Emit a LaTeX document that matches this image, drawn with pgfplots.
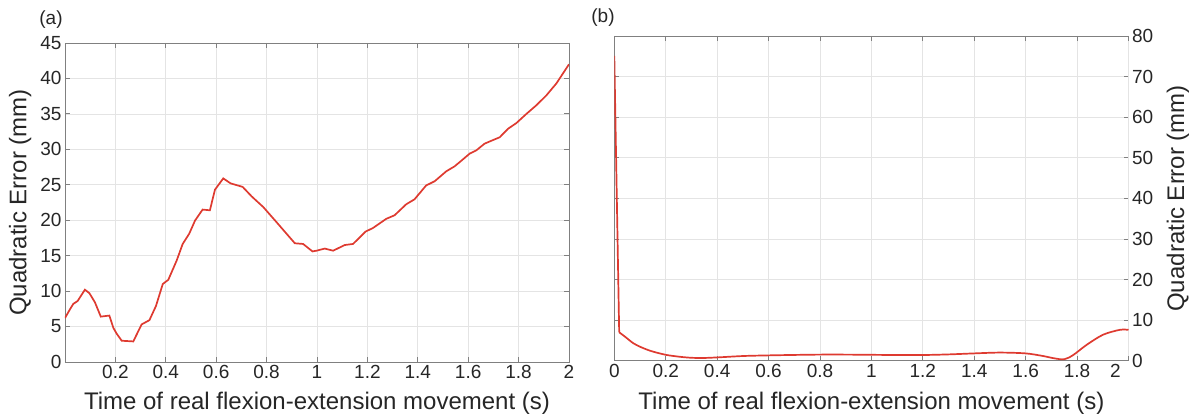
\documentclass[border=0pt]{standalone}
\usepackage{fontspec}
\setmainfont{Liberation Sans}
\usepackage{pgfplots}
\pgfplotsset{compat=1.18}

\definecolor{curvered}{RGB}{222,58,48}
\definecolor{framegray}{RGB}{128,128,128}
\definecolor{gridgray}{RGB}{228,228,228}
\definecolor{textgray}{RGB}{38,38,38}

\newcommand{\labelfont}{\fontsize{24}{24}\selectfont}

\pgfplotsset{
  errpanel/.style={
    scale only axis,
    anchor=south west,
    axis line style={framegray, line width=0.9pt},
    tick style={framegray, line width=0.8pt},
    tick align=inside,
    major tick length=5pt,
    grid=major,
    major grid style={gridgray, line width=0.7pt},
    /pgf/number format/assume math mode=true,
    tick label style={font=\fontsize{19}{19}\selectfont, text=textgray},
    every axis x label/.style={at={(axis description cs:0.5,-0.150)}, anchor=base,
      font=\labelfont, text=textgray},
    xmin=0, xmax=2,
  },
}

\begin{document}
\begin{tikzpicture}
\path[use as bounding box] (0,0) rectangle (1196pt,419pt);

% (a) quadratic error of the fitted trajectory
\begin{axis}[errpanel,
  at={(65pt,57pt)}, width=504pt, height=319pt,
  ymin=0, ymax=45,
  xtick={0.2,0.4,0.6,0.8,1,1.2,1.4,1.6,1.8,2},
  ytick={0,5,10,15,20,25,30,35,40,45},
  xlabel={Time of real flexion-extension movement (s)},
  ylabel={Quadratic Error (mm)},
  every axis y label/.style={at={(axis description cs:-0.089,0.5)}, rotate=90,
    anchor=center, font=\labelfont, text=textgray},
]
\addplot[curvered, line width=1.7pt] coordinates {
(0,6.2) (0.02,7.45) (0.033,8.2) (0.05,8.6) (0.079,10.2) (0.097,9.7)
(0.119,8.4) (0.142,6.4) (0.176,6.55) (0.192,4.8) (0.205,4.0) (0.225,3.0)
(0.271,2.9) (0.304,5.3) (0.335,5.9) (0.361,7.9) (0.388,11.0) (0.41,11.6)
(0.443,14.3) (0.467,16.65) (0.493,18.1) (0.516,19.95) (0.546,21.5)
(0.575,21.4) (0.595,24.3) (0.628,25.9) (0.657,25.2) (0.705,24.7)
(0.741,23.35) (0.787,21.85) (0.84,19.7) (0.879,18.1) (0.912,16.75)
(0.945,16.65) (0.982,15.6) (0.998,15.7) (1.031,16.0) (1.064,15.7)
(1.11,16.5) (1.143,16.65) (1.193,18.4) (1.222,18.9) (1.275,20.2)
(1.308,20.7) (1.354,22.25) (1.387,22.95) (1.433,24.9) (1.467,25.5)
(1.513,26.9) (1.546,27.6) (1.573,28.4) (1.606,29.4) (1.632,29.85)
(1.665,30.8) (1.698,31.3) (1.725,31.7) (1.758,32.9) (1.791,33.7)
(1.831,35.0) (1.87,36.2) (1.91,37.6) (1.95,39.3) (2.0,42.0)
};
\end{axis}
\node[font=\fontsize{19}{19}\selectfont, text=textgray] at (51pt,399pt) {(a)};

% (b) quadratic error after correction
\begin{axis}[errpanel,
  at={(614.3pt,58.3pt)}, width=514.2pt, height=324.7pt,
  ymin=0, ymax=80,
  xtick={0,0.2,0.4,0.6,0.8,1,1.2,1.4,1.6,1.8},
  extra x ticks={2},
  extra x tick style={xticklabel style={xshift=-13pt}},
  ytick={0,10,20,30,40,50,60,70,80},
  yticklabel pos=right,
  xlabel={Time of real flexion-extension movement (s)},
  ylabel={Quadratic Error (mm)},
  every axis y label/.style={at={(axis description cs:1.096,0.5)}, rotate=90,
    anchor=center, font=\labelfont, text=textgray},
]
\addplot[curvered, line width=1.7pt] coordinates {(0,75.1) (0.019,7.0)};
\addplot[curvered, line width=1.7pt, smooth] coordinates {
(0.019,7.0) (0.04,6.0) (0.074,4.3) (0.105,3.3) (0.139,2.46) (0.17,1.9)
(0.204,1.4) (0.25,1.0) (0.294,0.74) (0.34,0.66) (0.398,0.8) (0.5,1.15)
(0.593,1.3) (0.7,1.42) (0.8,1.5) (0.9,1.5) (1.0,1.45) (1.1,1.4) (1.2,1.4)
(1.3,1.55) (1.4,1.8) (1.5,2.0) (1.6,1.8) (1.668,1.15) (1.71,0.6)
(1.75,0.35) (1.785,1.4) (1.837,3.9) (1.901,6.4) (1.966,7.6) (2.0,7.6)
};
\end{axis}
\node[font=\fontsize{19}{19}\selectfont, text=textgray] at (603pt,401pt) {(b)};
\end{tikzpicture}
\end{document}
